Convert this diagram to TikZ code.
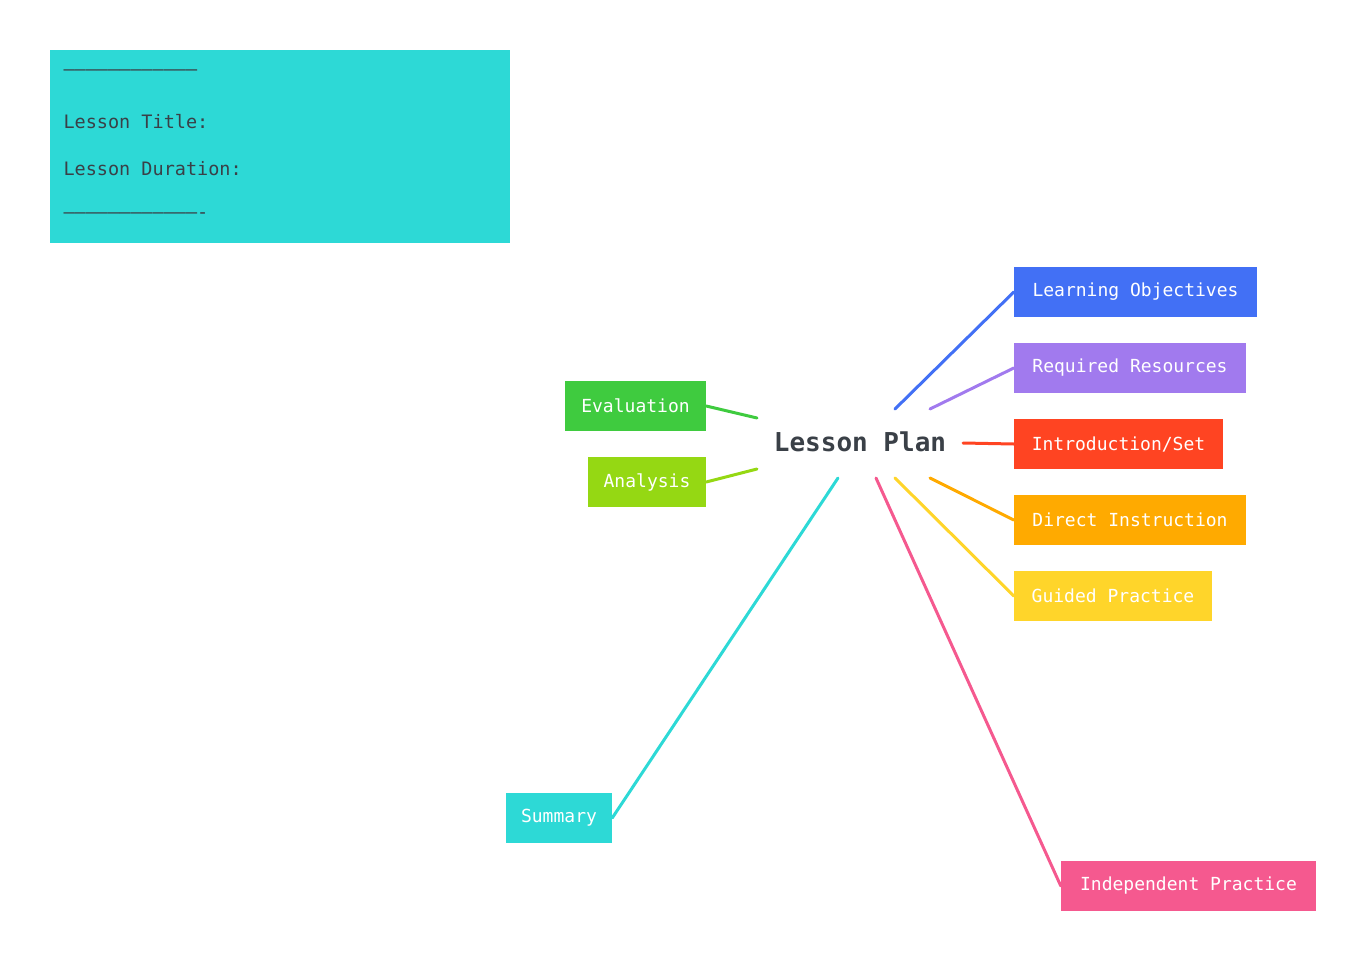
\documentclass[tikz,border=0pt]{standalone}
\usepackage{fontspec}
\setmainfont{DejaVu Sans Mono}
\usetikzlibrary{positioning}
\definecolor{lpdark}{RGB}{58, 64, 71}
\definecolor{lpcyan}{RGB}{45, 217, 214}
\definecolor{lpblue}{RGB}{66, 112, 245}
\definecolor{lppurple}{RGB}{161, 122, 238}
\definecolor{lpred}{RGB}{255, 68, 34}
\definecolor{lporange}{RGB}{255, 170, 0}
\definecolor{lpyellow}{RGB}{255, 213, 42}
\definecolor{lppink}{RGB}{245, 89, 143}
\definecolor{lpgreen}{RGB}{63, 203, 63}
\definecolor{lplime}{RGB}{149, 216, 19}
\tikzset{
  topic/.style={fill=#1, text=white, minimum height=50pt, inner xsep=0pt,
    font=\fontsize{18}{20}\selectfont},
  branch/.style={draw=#1, line width=3pt, line cap=round},
}
\begin{document}
\begin{tikzpicture}[x=1pt, y=-1pt]
			\useasboundingbox (0,0) rectangle (1366,961);

			% Header Box
			\fill[lpcyan] (50,50) rectangle (510,243);
			\begin{scope}[font=\fontsize{18.5}{20}\selectfont, text=lpdark]
				\node[anchor=west] (dashA) at (60,73) {------------------------------------};
				\node[anchor=west] (title) at (60,122) {Lesson Title:};
				\node[anchor=west] (dur) at (60,169) {Lesson Duration:};
				\node[anchor=west] (dashB) at (60,216) {-------------------------------------};
			\end{scope}

			% Central Topic
			\node[text=lpdark, font=\fontsize{26}{28}\selectfont\bfseries] (plan) at (860,442) {Lesson Plan};

			% Topics
			\node[topic=lpblue, minimum width=243pt] (obj) at (1135.5,292) {Learning Objectives};
			\node[topic=lppurple, minimum width=232pt] (res) at (1130,368) {Required Resources};
			\node[topic=lpred, minimum width=209pt] (intro) at (1118.5,444) {Introduction/Set};
			\node[topic=lporange, minimum width=232pt] (direct) at (1130,520) {Direct Instruction};
			\node[topic=lpyellow, minimum width=198pt] (guided) at (1113,596) {Guided Practice};
			\node[topic=lppink, minimum width=255pt] (indep) at (1188.5,886) {Independent Practice};
			\node[topic=lpcyan, minimum width=106pt] (summ) at (559,818) {Summary};
			\node[topic=lpgreen, minimum width=141pt] (eval) at (635.5,406) {Evaluation};
			\node[topic=lplime, minimum width=118pt] (anal) at (647,482) {Analysis};

			% Branch Start Points
			\coordinate (sObj) at (895,409);
			\coordinate (sRes) at (930,409);
			\coordinate (sIntro) at (963,443);
			\coordinate (sDirect) at (930,478);
			\coordinate (sGuided) at (895,478);
			\coordinate (sIndep) at (876,478);
			\coordinate (sSumm) at (838,478);
			\coordinate (sEval) at (757,418);
			\coordinate (sAnal) at (757,469);

			% Branches
			\draw[branch=lpblue] (sObj) -- (obj.west);
			\draw[branch=lppurple] (sRes) -- (res.west);
			\draw[branch=lpred] (sIntro) -- (intro.west);
			\draw[branch=lporange] (sDirect) -- (direct.west);
			\draw[branch=lpyellow] (sGuided) -- (guided.west);
			\draw[branch=lppink] (sIndep) -- (indep.west);
			\draw[branch=lpcyan] (sSumm) -- (summ.east);
			\draw[branch=lpgreen] (sEval) -- (eval.east);
			\draw[branch=lplime] (sAnal) -- (anal.east);

		\end{tikzpicture}
\end{document}
